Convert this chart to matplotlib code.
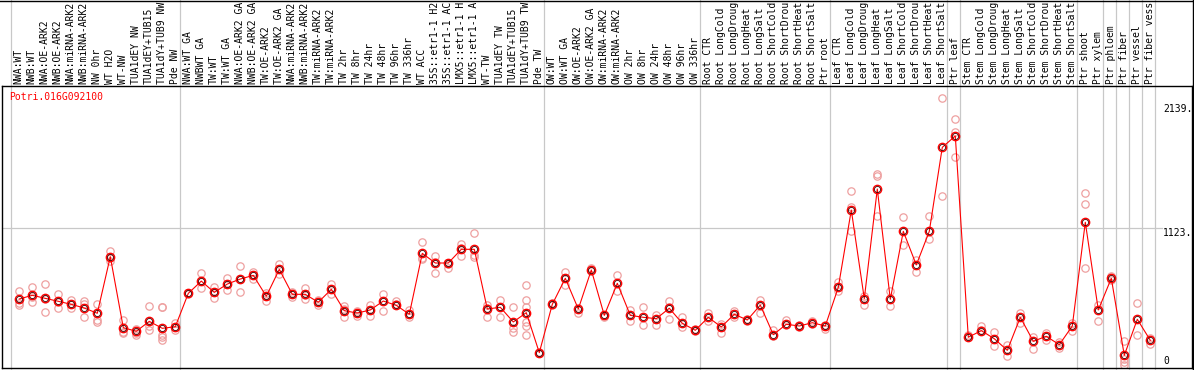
import matplotlib
matplotlib.use("Agg")
import matplotlib.pyplot as plt
from matplotlib.lines import Line2D
import matplotlib.transforms as mtransforms

# ---------------- data ----------------
gene_id = "Potri.016G092100"

sample_labels = [
    "NWA:WT", "NWB:WT", "NWA:OE-ARK2", "NWB:OE-ARK2", "NWA:miRNA-ARK2", "NWB:miRNA-ARK2",
    "NW 0hr", "WT H2O", "WT-NW", "TUA1dEY NW", "TUA1dEY+TUB15", "TUA1dY+TUB9 NW", "Pde NW",
    "NWA:WT GA", "NWBWT GA", "TW:WT", "TW:WT GA", "NWA:OE-ARK2 GA", "NWB:OE-ARK2 GA",
    "TW:OE-ARK2", "TW:OE-ARK2 GA", "NWA:miRNA-ARK2", "NWB:miRNA-ARK2", "TW:miRNA-ARK2",
    "TW:miRNA-ARK2", "TW 2hr", "TW 8hr", "TW 24hr", "TW 48hr", "TW 96hr", "TW 336hr",
    "WT ACC", "35S::etr1-1 H2", "35S::etr1-1 AC", "LMX5::etr1-1 H", "LMX5::etr1-1 A",
    "WT-TW", "TUA1dEY TW", "TUA1dEY+TUB15", "TUA1dY+TUB9 TW", "Pde TW",
    "OW:WT", "OW:WT GA", "OW:OE-ARK2", "OW:OE-ARK2 GA", "OW:miRNA-ARK2", "OW:miRNA-ARK2",
    "OW 2hr", "OW 8hr", "OW 24hr", "OW 48hr", "OW 96hr", "OW 336hr",
    "Root CTR", "Root LongCold", "Root LongDroug", "Root LongHeat", "Root LongSalt",
    "Root ShortCold", "Root ShortDrou", "Root ShortHeat", "Root ShortSalt", "Ptr root",
    "Leaf CTR", "Leaf LongCold", "Leaf LongDroug", "Leaf LongHeat", "Leaf LongSalt",
    "Leaf ShortCold", "Leaf ShortDrou", "Leaf ShortHeat", "Leaf ShortSalt",
    "Ptr leaf",
    "Stem CTR", "Stem LongCold", "Stem LongDroug", "Stem LongHeat", "Stem LongSalt",
    "Stem ShortCold", "Stem ShortDrou", "Stem ShortHeat", "Stem ShortSalt",
    "Ptr shoot", "Ptr xylem", "Ptr phloem", "Ptr fiber", "Ptr vessel", "Ptr fiber vess",
]

mean_values = [
    544, 574, 549, 525, 500, 470, 427, 890, 309, 280,
    361, 304, 317, 590, 690, 598, 666, 707, 737, 566,
    786, 582, 582, 517, 623, 448, 429, 454, 527, 492,
    419, 917, 838, 838, 950, 950, 462, 476, 356, 432,
    105, 500, 713, 462, 781, 410, 672, 410, 394, 383,
    468, 345, 288, 394, 315, 419, 372, 494, 252, 337,
    323, 350, 323, 639, 1271, 546, 1443, 541, 1097, 822,
    1097, 1784, 1877, 231, 285, 219, 124, 394, 198, 239,
    170, 323, 1171, 454, 713, 83, 378, 206,
]

replicate_values = [
    [607, 509, 492], [639, 522, 560], [666, 437, 545], [585, 468, 520], [536, 468, 500],
    [527, 503, 394], [505, 372, 358], [939, 854, 880], [372, 276, 263], [296, 252, 268],
    [484, 290, 323], [481, 476, 249, 231, 208], [350, 290, 317], [595, 585], [754, 631, 690],
    [639, 554, 600], [713, 617, 666], [814, 598, 707], [765, 705, 740], [595, 527, 566],
    [827, 748, 786], [601, 558, 582], [634, 541, 575], [536, 495, 517], [664, 582, 623],
    [487, 394, 460], [448, 405, 430], [497, 405, 454], [587, 446, 527], [527, 500, 492],
    [454, 394, 419], [1007, 868, 880], [898, 754, 850], [838, 800, 830], [991, 895, 960],
    [1081, 885, 900], [495, 394, 470], [536, 394, 480], [481, 304, 276],
    [656, 536, 481, 358, 323, 249], [105, 110, 100], [508, 495], [767, 658, 713], [432, 470],
    [795, 775], [394, 415], [740, 612], [454, 366], [476, 331], [413, 331],
    [530, 380, 480], [394, 317], [300, 280], [432, 366], [339, 263], [448, 394], [380, 365],
    [536, 432], [293, 245], [370, 330], [330, 318], [360, 340], [296, 330], [680, 607],
    [1424, 1299, 1097], [566, 497], [1566, 1547, 1225], [607, 484], [1212, 988], [865, 762],
    [1220, 1034], [2187, 1383], [2013, 1907, 1702], [252, 240], [320, 290], [274, 157],
    [170, 75], [427, 347], [233, 135], [266, 211], [192, 143], [347, 280],
    [1408, 1318, 795], [497, 361], [729, 700], [198, 56, 29, 7], [511, 249], [225, 176],
]

# last sample index of each group (separator drawn after it)
group_ends = [12, 40, 52, 62, 71, 72, 81, 83, 84, 85, 86, 87]
ytick_values = [2139, 1123, 0]
ytick_labels = ["2139.", "1123.", "0"]

# ---------------- figure ----------------
W, H = 1194, 370
fig = plt.figure(figsize=(W / 100, H / 100), dpi=100)
left_px, right_px, top_px, bot_px = 1.5, 1192, 85.5, 368
ax = fig.add_axes([left_px / W, (H - bot_px) / H, (right_px - left_px) / W, (bot_px - top_px) / H])

x0_px, dx_px = 19.3, 13.0
zero_px, scale = 365.5, 0.1223
ax.set_xlim((left_px - x0_px) / dx_px, (right_px - x0_px) / dx_px)
ax.set_ylim((zero_px - bot_px) / scale, (zero_px - top_px) / scale)
ax.set_xticks([])
ax.set_yticks([])
for s in ax.spines.values():
    s.set_color("black")
    s.set_linewidth(1.0)

mono = "DejaVu Sans Mono"
fs = 7.0
grid_col = "#c8c8c8"

# separators (span label area too)
blend = mtransforms.blended_transform_factory(ax.transData, fig.transFigure)
sep_positions = [-0.65] + [g + 0.385 for g in group_ends]
for sx in sep_positions:
    ax.add_line(Line2D([sx, sx], [0, 1], transform=blend, color=grid_col, lw=0.9,
                       clip_on=False, zorder=1))

# frame around label area
fig.add_artist(Line2D([0, 1], [1 - 0.5 / H, 1 - 0.5 / H], color="black", lw=1.0))
fig.add_artist(Line2D([1 - 1.5 / W, 1 - 1.5 / W], [0, 1], color="black", lw=1.0))

# horizontal gridline
ax.plot([ax.get_xlim()[0], 87.9], [1123, 1123], color=grid_col, lw=0.9, zorder=1, clip_on=False)

# sample labels
xs = list(range(len(sample_labels)))
for xi, lab in zip(xs, sample_labels):
    ax.text(xi - 0.05, 1 - 83.5 / H, lab, transform=blend, rotation=90, ha="center",
            va="bottom", fontsize=fs, family=mono, color="black", clip_on=False)

# replicates
rx, ry = [], []
for xi, reps in zip(xs, replicate_values):
    for r in reps:
        rx.append(xi)
        ry.append(r)
ax.plot(rx, ry, "o", mfc="none", mec="#eea0a0", ms=5.3, mew=0.9, zorder=2)

# mean line and markers
ax.plot(xs, mean_values, color="red", lw=0.8, zorder=3)
ax.plot(xs, mean_values, "o", mfc="none", mec="red", ms=6.0, mew=1.0, zorder=4)
ax.plot(xs, mean_values, "o", mfc="none", mec="#400000", ms=4.4, mew=0.6, zorder=5)

# y labels on the right
ylab_x = mtransforms.blended_transform_factory(fig.transFigure, ax.transData)
for v, t in zip(ytick_values, ytick_labels):
    ax.text(1163 / W, v, t, transform=ylab_x, ha="left",
            va="top" if v > 0 else "bottom", fontsize=fs, family=mono, color="black",
            clip_on=False)

# gene id
fig.text(9 / W, 1 - 97 / H, gene_id, ha="left", va="center", fontsize=fs, family=mono,
         color="red")

fig.savefig("out.png", dpi=100)
